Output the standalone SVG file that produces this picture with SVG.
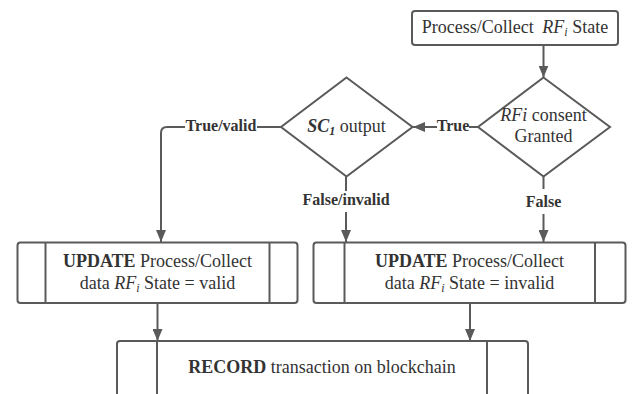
<svg xmlns="http://www.w3.org/2000/svg" width="635" height="394" viewBox="0 0 635 394">
<style>
.sh{fill:#fff;stroke:#5a5a5a;stroke-width:2}
.ln{fill:none;stroke:#5a5a5a;stroke-width:2}
.t{font-family:"Liberation Serif","Times New Roman",serif;font-size:18px;fill:#333;text-anchor:middle}
.lb{font-family:"Liberation Serif","Times New Roman",serif;font-size:16px;font-weight:bold;fill:#333;text-anchor:middle}
.it{font-style:italic}
.b{font-weight:bold}
.sub{font-size:12px}
</style>
<defs>
<marker id="ah" markerUnits="userSpaceOnUse" markerWidth="12" markerHeight="10" refX="12" refY="5" orient="auto">
<path d="M0,0 L12,5 L0,10 z" fill="#5a5a5a"/>
</marker>
</defs>
<rect width="635" height="394" fill="#fff"/>
<g id="connectors">
<path class="ln" d="M543.5,45 V77.5" marker-end="url(#ah)"/>
<path class="ln" d="M478.5,127 H413" marker-end="url(#ah)"/>
<path class="ln" d="M281,127 H167 Q161,127 161,133 V242" marker-end="url(#ah)"/>
<path class="ln" d="M346,176.5 V242" marker-end="url(#ah)"/>
<path class="ln" d="M543.5,176.5 V242" marker-end="url(#ah)"/>
<path class="ln" d="M157.5,303 V341" marker-end="url(#ah)"/>
<path class="ln" d="M470,303 V341" marker-end="url(#ah)"/>
<rect x="437" y="117" width="32" height="18" fill="#fff"/>
<text class="lb" x="453" y="131">True</text>
<rect x="185" y="117" width="72" height="18" fill="#fff"/>
<text class="lb" x="221" y="131">True/valid</text>
<rect x="301" y="191" width="90" height="21" fill="#fff"/>
<text class="lb" x="346" y="204.5">False/invalid</text>
<rect x="524" y="189" width="39" height="25" fill="#fff"/>
<text class="lb" x="543.5" y="206.5">False</text>
</g>
<g id="node-process">
<rect class="sh" x="412" y="11" width="206" height="34" rx="3"/>
<text class="t" x="515" y="33">Process/Collect <tspan class="it" dx="4">RF<tspan class="sub" dy="3">i</tspan></tspan><tspan dy="-3"> State</tspan></text>
</g>
<g id="node-consent">
<polygon class="sh" points="543.5,77.5 610,127 543.5,176.5 478,127"/>
<text class="t" x="543.5" y="121"><tspan class="it">RFi</tspan> consent</text>
<text class="t" x="543.5" y="142">Granted</text>
</g>
<g id="node-sc1">
<polygon class="sh" points="346.5,77.5 412.5,127 346.5,176.5 281,127"/>
<text class="t" x="346.5" y="132"><tspan class="it b">SC<tspan class="sub" dy="3">1</tspan></tspan><tspan dy="-3"> output</tspan></text>
</g>
<g id="node-update-valid">
<rect class="sh" x="17.5" y="242.5" width="280" height="60.5" rx="3"/>
<line class="ln" x1="45.5" y1="242.5" x2="45.5" y2="303"/>
<line class="ln" x1="269.5" y1="242.5" x2="269.5" y2="303"/>
<text class="t" x="157.5" y="266.5"><tspan class="b">UPDATE</tspan> Process/Collect</text>
<text class="t" x="157.5" y="288.5">data <tspan class="it">RF<tspan class="sub" dy="3">i</tspan></tspan><tspan dy="-3"> State = valid</tspan></text>
</g>
<g id="node-update-invalid">
<rect class="sh" x="313.5" y="242.5" width="312" height="60.5" rx="3"/>
<line class="ln" x1="344.5" y1="242.5" x2="344.5" y2="303"/>
<line class="ln" x1="595" y1="242.5" x2="595" y2="303"/>
<text class="t" x="469.5" y="266.5"><tspan class="b">UPDATE</tspan> Process/Collect</text>
<text class="t" x="469.5" y="288.5">data <tspan class="it">RF<tspan class="sub" dy="3">i</tspan></tspan><tspan dy="-3"> State = invalid</tspan></text>
</g>
<g id="node-record">
<rect class="sh" x="117" y="341" width="411" height="70" rx="3"/>
<line class="ln" x1="157" y1="341" x2="157" y2="394"/>
<line class="ln" x1="487" y1="341" x2="487" y2="394"/>
<text class="t" x="322" y="372.5"><tspan class="b">RECORD</tspan> transaction on blockchain</text>
</g>
</svg>
